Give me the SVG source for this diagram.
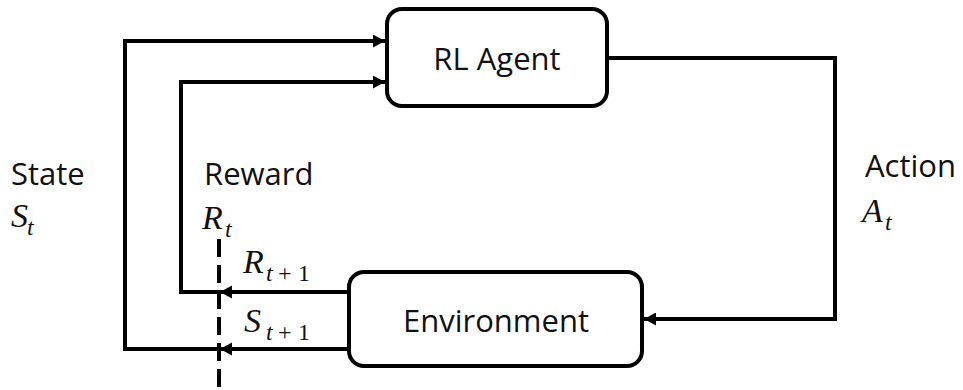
<svg xmlns="http://www.w3.org/2000/svg" width="963" height="390" viewBox="0 0 963 390">
<style>
.box{fill:#fff;stroke:#000;stroke-width:4}
.line{fill:none;stroke:#000;stroke-width:4}
.lbl{font-family:"Open Sans","Noto Sans",sans-serif;font-size:31px;fill:#111}
.math{font-family:"Liberation Serif","Times New Roman",serif;font-style:italic;font-size:34px;fill:#111}
.sub{font-size:24px}
.up{font-style:normal}
</style>
<defs>
<marker id="ah" viewBox="0 0 12 13" refX="12" refY="6.5" markerWidth="12" markerHeight="13" markerUnits="userSpaceOnUse" orient="auto">
<path d="M0,0 L12,6.5 L0,13 Z" fill="#000"/>
</marker>
</defs>
<g id="connectors">
<path class="line" d="M347,349 H125 V41 H385" marker-end="url(#ah)"/>
<path class="line" d="M347,292 H181 V82 H385" marker-end="url(#ah)"/>
<path class="line" d="M609,58 H835 V319 H644" marker-end="url(#ah)"/>
<path d="M220,292 L232,285.5 L232,298.5 Z" fill="#000"/>
<path d="M220,349 L232,342.5 L232,355.5 Z" fill="#000"/>
<line x1="219" y1="239" x2="219" y2="392" stroke="#000" stroke-width="4" stroke-dasharray="18 8"/>
</g>
<g id="agent">
<rect class="box" x="387" y="9" width="220" height="97" rx="15"/>
<text class="lbl" x="497" y="70" text-anchor="middle">RL Agent</text>
</g>
<g id="environment">
<rect class="box" x="349" y="272" width="293" height="94" rx="15"/>
<text class="lbl" x="496" y="332" text-anchor="middle">Environment</text>
</g>
<g id="labels">
<text class="lbl" x="11" y="185">State</text>
<text class="math" x="11" y="227">S<tspan class="sub" x="27" y="235">t</tspan></text>
<text class="lbl" x="204" y="185">Reward</text>
<text class="math" x="202" y="229">R<tspan class="sub" x="225" y="237">t</tspan></text>
<text class="lbl" x="865" y="177">Action</text>
<text class="math" x="862" y="222">A<tspan class="sub" x="885" y="230">t</tspan></text>
<text class="math" x="243" y="273">R<tspan class="sub" x="266" y="281">t</tspan><tspan class="sub up" x="278" y="281">+</tspan><tspan class="sub up" x="298" y="281">1</tspan></text>
<text class="math" x="244" y="332">S<tspan class="sub" x="266" y="340">t</tspan><tspan class="sub up" x="278" y="340">+</tspan><tspan class="sub up" x="298" y="340">1</tspan></text>
</g>
</svg>
